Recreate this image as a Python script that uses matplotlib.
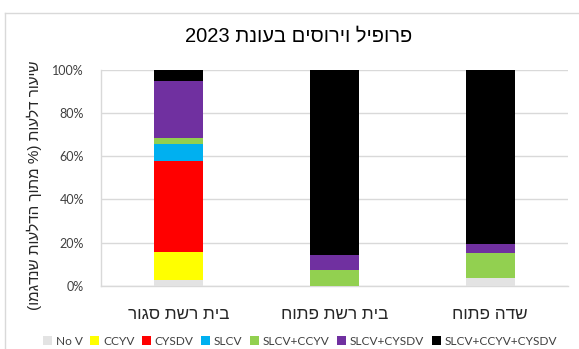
import matplotlib
matplotlib.use("Agg")
import matplotlib.pyplot as plt
from matplotlib.patches import Patch
from matplotlib.lines import Line2D
import numpy as np

# Hebrew strings are stored in logical order and reordered for display,
# since matplotlib lays text out strictly left to right.
title_text = "פרופיל וירוסים בעונת 2023"
ylabel_text = "שיעור דלעות (% מתוך הדלעות שנדגמו)"
categories = ["בית רשת סגור", "בית רשת פתוח", "שדה פתוח"]

series_names = ["No V", "CCYV", "CYSDV", "SLCV", "SLCV+CCYV", "SLCV+CYSDV", "SLCV+CCYV+CYSDV"]
no_v = [2.6, 0.0, 3.6]
ccyv = [13.0, 0.0, 0.0]
cysdv = [42.1, 0.0, 0.0]
slcv = [7.9, 0.0, 0.0]
slcv_ccyv = [2.8, 7.1, 11.7]
slcv_cysdv = [26.5, 7.1, 4.1]
slcv_ccyv_cysdv = [5.1, 85.8, 80.6]
series_values = [no_v, ccyv, cysdv, slcv, slcv_ccyv, slcv_cysdv, slcv_ccyv_cysdv]
series_colors = ["#E3E3E3", "#FFFF00", "#FF0000", "#00B0F0", "#92D050", "#7030A0", "#000000"]
yticks = [0, 20, 40, 60, 80, 100]


def visual(s):
    """Reorder a logical RTL string into left-to-right display order."""
    mirror = {"(": ")", ")": "("}
    runs = []
    cur = ""
    cur_ltr = None
    for ch in s:
        is_ltr = ch.isascii() and ch.isalnum()
        if cur and is_ltr != cur_ltr and not (ch == " " or ch in "%()"):
            runs.append((cur, cur_ltr))
            cur = ""
        if not cur:
            cur_ltr = is_ltr
        if ch in " %()" and cur_ltr:
            runs.append((cur, cur_ltr))
            cur = ch
            cur_ltr = False
            continue
        cur += ch
    if cur:
        runs.append((cur, cur_ltr))
    out = []
    for text, ltr in reversed(runs):
        if ltr:
            out.append(text)
        else:
            out.append("".join(mirror.get(c, c) for c in reversed(text)))
    return "".join(out)


heb = "Liberation Sans"
latin = "Lato"

fig = plt.figure(figsize=(5.79, 3.49), dpi=100)
ax = fig.add_axes([0.174, 0.1814, 0.807, 0.618])

x = np.arange(len(categories))
bottom = np.zeros(len(categories))
for name, vals, color in zip(series_names, series_values, series_colors):
    ax.bar(x, vals, width=0.315, bottom=bottom, color=color, label=name, zorder=3)
    bottom += np.array(vals)

ax.set_xlim(-0.5, len(categories) - 0.5)
ax.set_ylim(0, 100)
ax.set_yticks(yticks)
ax.set_yticklabels([f"{v}%" for v in yticks], fontfamily=latin, fontsize=9, color="#404040")
ax.set_xticks(x)
ax.set_xticklabels([visual(c) for c in categories], fontfamily=heb, fontsize=12.3, color="#262626")
ax.tick_params(axis="y", length=0, pad=12)
ax.tick_params(axis="x", length=0, pad=15)
ax.grid(axis="y", color="#D9D9D9", linewidth=1, zorder=0)
for side in ["top", "right"]:
    ax.spines[side].set_visible(False)
for side in ["left", "bottom"]:
    ax.spines[side].set_color("#D9D9D9")
    ax.spines[side].set_linewidth(1)

fig.text(0.515, 0.897, visual(title_text), ha="center", va="center",
         fontfamily=heb, fontsize=14.5, color="#000000")
fig.text(0.06, 0.47, visual(ylabel_text), ha="center", va="center", rotation=90,
         fontfamily=heb, fontsize=11, color="#262626")

handles = [Patch(facecolor=c, edgecolor="none") for c in series_colors]
fig.legend(handles, series_names, loc="center", bbox_to_anchor=(0.518, 0.022), ncol=7,
           frameon=False, handlelength=0.75, handleheight=0.75, handletextpad=0.3,
           columnspacing=0.65, prop={"family": latin, "size": 8.6}, labelcolor="#404040")

# chart-area border on the left and top
fig.add_artist(Line2D([0.009, 0.009], [0, 0.963], transform=fig.transFigure, color="#D9D9D9", linewidth=1))
fig.add_artist(Line2D([0.009, 1.0], [0.963, 0.963], transform=fig.transFigure, color="#D9D9D9", linewidth=1))

fig.savefig("out.png", dpi=100, facecolor="white")
